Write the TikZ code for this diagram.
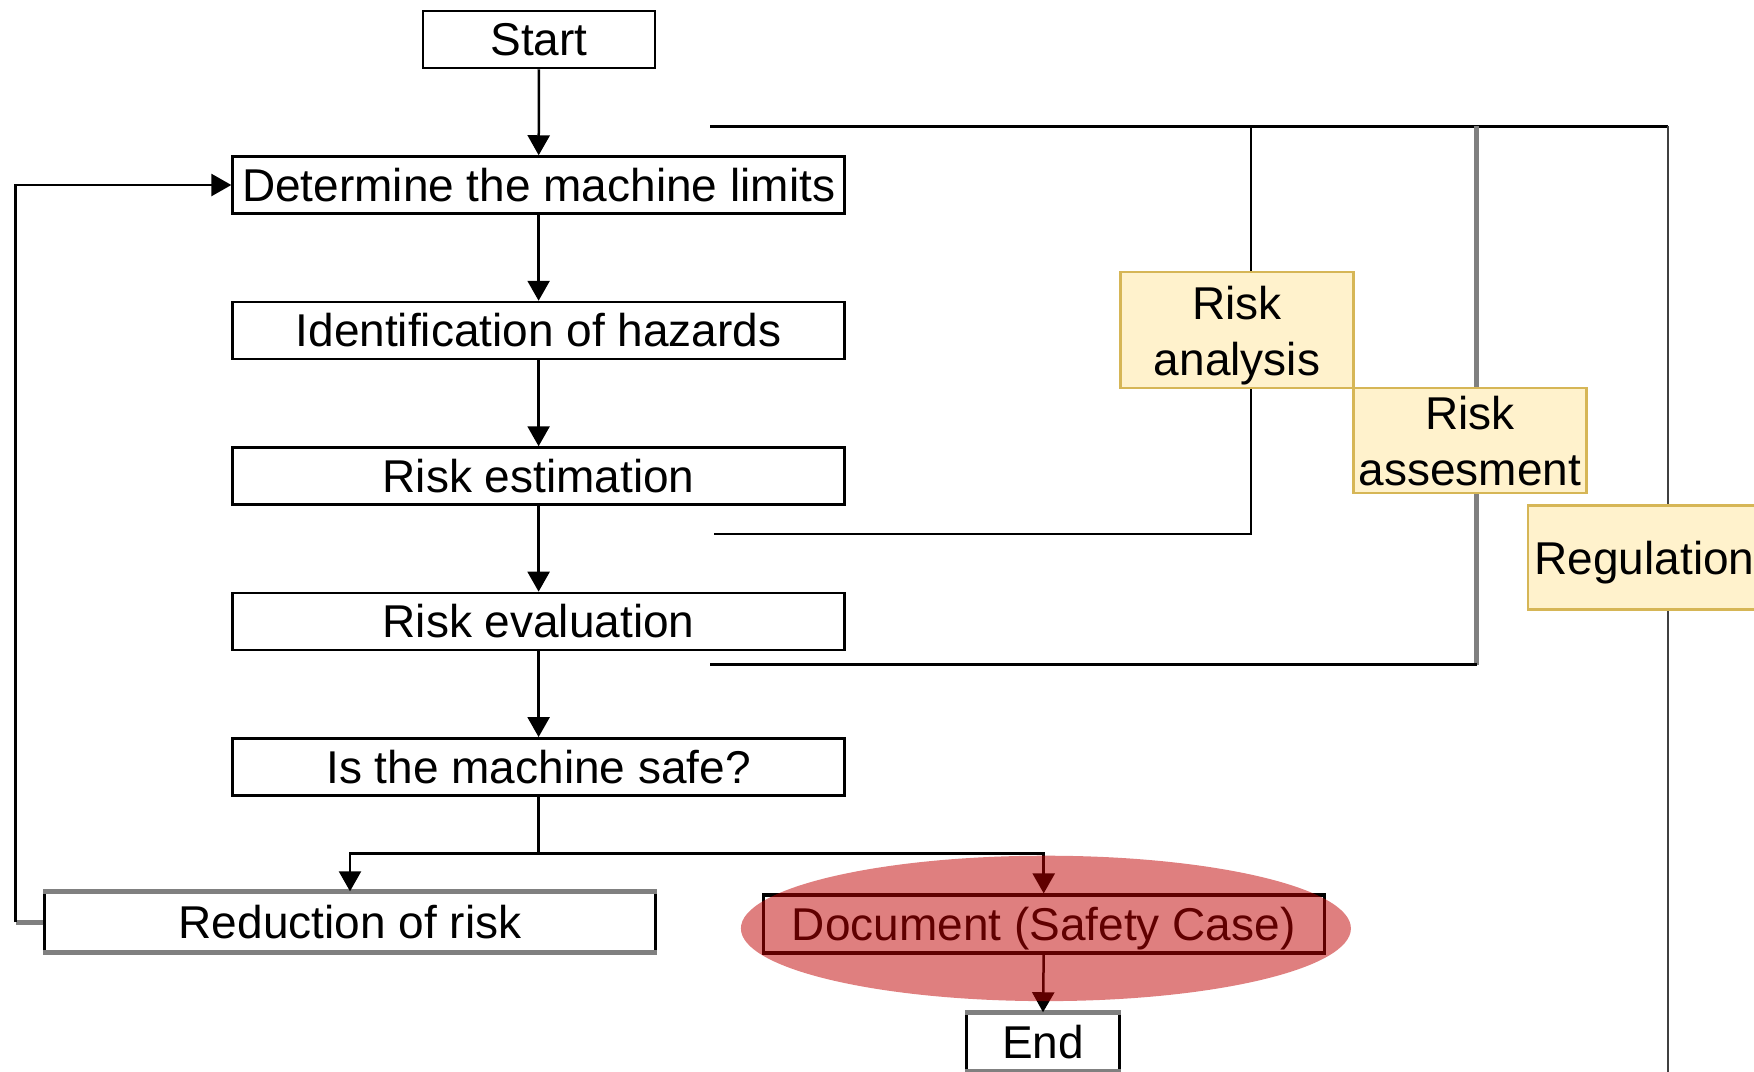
\documentclass[tikz,border=0pt]{standalone}
\usepackage{fontspec}
\setmainfont{Liberation Sans}
\usetikzlibrary{arrows.meta,shapes.geometric}

\definecolor{notefill}{HTML}{FFF2CC}
\definecolor{notedraw}{HTML}{D6B656}
\definecolor{edgegray}{HTML}{808080}
\definecolor{markred}{RGB}{192,0,0}

\begin{document}
\begin{tikzpicture}[x=0.5pt,y=-0.5pt,
  every node/.style={inner sep=0pt,font=\fontsize{23}{28}\selectfont},
  stepbox/.style={draw=black,line width=1.25pt,fill=white,minimum height=28.5pt},
  notebox/.style={draw=notedraw,line width=1.25pt,fill=notefill,align=center,minimum width=116.5pt},
  flow/.style={line width=1.25pt,-{Triangle[width=11pt,length=10pt]}},
  plain/.style={line width=1.25pt},
  thickgray/.style={draw=edgegray,line width=2.5pt}
]
\useasboundingbox (0,0) rectangle (1754,1071);
\clip (0,0) rectangle (1754,1071);

% bracket lines on the right, drawn first so the notes sit on top
\coordinate (topl) at (710,126.4);
\coordinate (topr) at (1668,126.4);
\coordinate (botr) at (1668,1075);
\coordinate (anat) at (1250.6,126.4);
\coordinate (anab) at (1250.6,533.6);
\coordinate (anal) at (713.7,533.6);
\coordinate (asst) at (1476.6,126.4);
\coordinate (assb) at (1476.6,664.5);
\coordinate (assl) at (710,664.5);

\draw[plain] (topl) -- (topr);
\draw[line width=1.25pt,draw=black!75] (topr) -- (botr);
\draw[line width=1pt] (anat) -- (anab) -- (anal);
\draw[thickgray] (asst) -- (assb);
\draw[plain] (assb) -- (assl);

% process steps
\node[stepbox,minimum width=116pt] (start) at (539,39.5) {Start};
\node[stepbox,minimum width=306pt] (det) at (538.6,185) {Determine the machine limits};
\node[stepbox,minimum width=306pt] (ident) at (538.6,330.5) {Identification of hazards};
\node[stepbox,minimum width=306pt] (est) at (538.6,476) {Risk estimation};
\node[stepbox,minimum width=306pt] (eval) at (538.6,621.4) {Risk evaluation};
\node[stepbox,minimum width=306pt] (safe) at (538.6,766.8) {Is the machine safe?};
\node[stepbox,minimum width=305.5pt,minimum height=29.5pt] (red) at (350,922) {Reduction of risk};
\node[stepbox,line width=1.6pt,minimum width=280.5pt,minimum height=29pt,text depth=0pt] (doc) at (1043.7,924) {Document (Safety Case)};
\node[stepbox,minimum width=76.5pt,minimum height=28.5pt] (end) at (1043,1042) {End};

% grey top and bottom edges of two boxes
\draw[thickgray] (red.north west) -- (red.north east);
\draw[thickgray] (red.south west) -- (red.south east);
\draw[thickgray] (end.north west) -- (end.north east);
\draw[thickgray] (end.south west) -- (end.south east);

% notes
\node[notebox,minimum height=58pt] (ana) at (1237,330) {\rule{0pt}{22pt}Risk\\analysis};
\node[notebox,minimum height=52.5pt] (ass) at (1470,440.7) {Risk\\assesment};
\node[notebox,minimum height=52pt,text depth=0pt] (reg) at (1644.5,557.6) {Regulation};

% flow
\draw[flow] (start) -- (det);
\draw[flow] (det) -- (ident);
\draw[flow] (ident) -- (est);
\draw[flow] (est) -- (eval);
\draw[flow] (eval) -- (safe);

\coordinate (branch) at (538.6,853.5);
\draw[plain] (safe.south) -- (branch);
\draw[flow] (branch) -| (red.north);
\draw[flow] (branch) -| (doc.north);
\draw[flow] (doc.south) -- (end.north);

% loop back
\coordinate (loopb) at (15.7,922);
\draw[thickgray] (red.west) -- (loopb);
\draw[flow] (loopb) |- (det.west);

% translucent highlight over the document step
\node[ellipse,fill=markred,fill opacity=0.5,minimum width=305pt,minimum height=72.7pt] (mark) at (1045.9,928.4) {};
\end{tikzpicture}
\end{document}
